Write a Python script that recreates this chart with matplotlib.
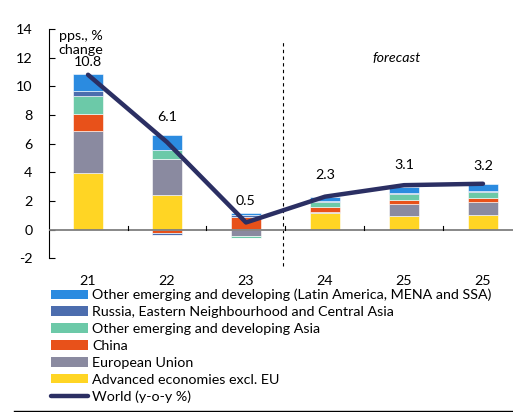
import numpy as np
import matplotlib
matplotlib.use("Agg")
import matplotlib.pyplot as plt
from matplotlib.lines import Line2D
from matplotlib.patches import Patch

plt.rcParams["font.family"] = ["Lato", "DejaVu Sans"]
plt.rcParams["axes.unicode_minus"] = False

# データ
years = ["21", "22", "23", "24", "25", "25"]
advanced = [3.97, 2.42, 0.05, 1.18, 0.97, 1.02]
eu = [2.93, 2.48, -0.42, 0.07, 0.79, 0.88]
china = [1.18, -0.22, 0.85, 0.33, 0.32, 0.32]
other_asia = [1.25, 0.65, -0.15, 0.37, 0.40, 0.42]
russia = [0.31, -0.15, 0.09, 0.05, 0.09, 0.05]
other_em = [1.22, 1.02, 0.19, 0.30, 0.37, 0.49]
world = [10.8, 6.1, 0.5, 2.3, 3.1, 3.2]

series = [
    ("Advanced economies excl. EU", advanced, "#FFD524"),
    ("European Union", eu, "#8A8AA0"),
    ("China", china, "#E8511A"),
    ("Other emerging and developing Asia", other_asia, "#6CC9A8"),
    ("Russia, Eastern Neighbourhood and Central Asia", russia, "#4C6DAE"),
    ("Other emerging and developing (Latin America, MENA and SSA)", other_em, "#2B8BE0"),
]
world_color = "#2B2F63"
FS = 10.3

fig = plt.figure(figsize=(5.13, 4.12), dpi=100)
ax = fig.add_axes([0.0961, 0.373, 0.9039, 0.557])

x = np.arange(len(years))
pos_base = np.zeros(len(years))
neg_base = np.zeros(len(years))
for label, vals, color in series:
    vals = np.array(vals)
    pos = np.where(vals > 0, vals, 0)
    neg = np.where(vals < 0, vals, 0)
    ax.bar(x, pos, 0.39, bottom=pos_base, color=color, edgecolor="white", linewidth=0.4, zorder=2)
    ax.bar(x, neg, 0.39, bottom=neg_base, color=color, edgecolor="white", linewidth=0.4, zorder=2)
    pos_base += pos
    neg_base += neg

ax.axhline(0, color="#7F7F7F", linewidth=1.3, zorder=3)
ax.plot(x, world, color=world_color, linewidth=3.2, solid_capstyle="round", zorder=4)

# ラベルの位置(ポイント単位のオフセット)
label_offsets = [4.5, 13.5, 11, 11, 10, 8.6]
for xi, v, off in zip(x, world, label_offsets):
    ax.annotate(f"{v}", (xi, v), xytext=(0, off), textcoords="offset points",
                ha="center", va="bottom", fontsize=FS)

# 予測区間の境界
ax.plot([2.47, 2.47], [-2.55, 13.2], color="black", linestyle=(0, (3, 3)), linewidth=0.8,
        clip_on=False, zorder=1)
ax.text(3.9, 11.95, "forecast", style="italic", fontsize=FS, ha="center", va="center")

# ゼロ線上の小さな目盛り
for b in np.arange(0.5, 5.0, 1.0):
    ax.plot([b, b], [0, 0.28], color="black", linewidth=0.8, zorder=3)

ax.set_xlim(-0.49, 5.38)
ax.set_ylim(-2, 14)
ax.set_yticks(range(-2, 15, 2))
ax.set_xticks(x)
ax.set_xticklabels(years)
for s in ["top", "right", "bottom"]:
    ax.spines[s].set_visible(False)
ax.spines["left"].set_color("black")
ax.spines["left"].set_linewidth(0.8)
ax.tick_params(axis="y", direction="in", length=4, width=0.8, labelsize=FS, pad=12)
ax.tick_params(axis="x", length=0, labelsize=FS, pad=12)

ax.text(0.02, 0.995, "pps., %\nchange", transform=ax.transAxes, fontsize=FS,
        ha="left", va="top", linespacing=1.2)

handles = [Patch(facecolor=c, label=l) for l, v, c in reversed(series)]
handles.append(Line2D([0], [0], color=world_color, linewidth=3.2, solid_capstyle="round",
                      label="World (y-o-y %)"))
fig.legend(handles=handles, loc="upper left", bbox_to_anchor=(0.099, 0.299), frameon=False,
           fontsize=FS, handlelength=2.6, handleheight=0.65, handletextpad=0.3,
           labelspacing=0.34, borderaxespad=0, borderpad=0)

fig.add_artist(Line2D([14 / 513, 1], [1 / 412, 1 / 412], color="black", linewidth=1))

fig.savefig("out.png", dpi=100)
